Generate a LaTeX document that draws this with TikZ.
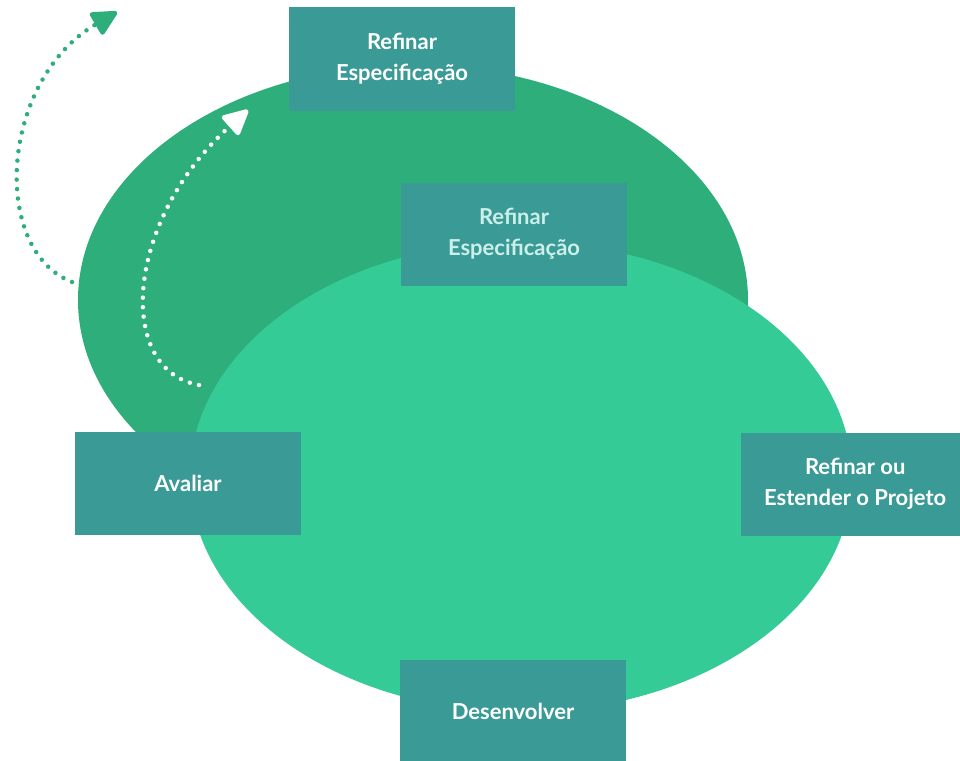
\documentclass[tikz,border=0pt]{standalone}
\usepackage{fontspec}
\setmainfont{Lato}
\usetikzlibrary{arrows.meta}
\definecolor{backgreen}{HTML}{2EAE7A}
\definecolor{frontgreen}{HTML}{34CB96}
\definecolor{boxteal}{HTML}{3A9A96}
\definecolor{palecyan}{HTML}{CDEFEA}
\begin{document}
\begin{tikzpicture}[x=1pt,y=-1pt,
    stage/.style={fill=boxteal,text=white,minimum width=226pt,minimum height=103pt,
        inner sep=0pt,align=center,font=\bfseries\fontsize{22}{31}\selectfont},
    loop/.style={line width=4.5pt,line cap=round,dash pattern=on 0pt off 9.5pt,
        -{Triangle[length=28pt,width=27pt,round=false]}}]
 \useasboundingbox (0,0) rectangle (960,760);
 % the two turns of the spiral
 \fill[backgreen] (413,300) ellipse [x radius=335,y radius=235];
 \fill[frontgreen] (521,477) ellipse [x radius=331,y radius=235];
 % steps
 \node[stage] (specout) at (402,59) {Refinar\\Especificação};
 \node[stage,text=palecyan] (specin) at (514,234) {Refinar\\Especificação};
 \node[stage] (avaliar) at (188,483) {Avaliar};
 \node[stage,anchor=west] (projeto) at (741,484) {\hspace*{2pt}Refinar ou\\\hspace*{2pt}Estender o Projeto};
 \node[stage] (desenv) at (513,711) {Desenvolver};
 % way back to the outer turn
 \coordinate (outstart) at (72,282);
 \coordinate (outend) at (117,12);
 \coordinate (instart) at (199,385);
 \coordinate (inend) at (248,110);
 \draw[loop,backgreen] (outstart) .. controls (-10,250) and (0,80) .. (outend);
 \draw[loop,white] (instart) .. controls (115,370) and (125,220) .. (inend);
\end{tikzpicture}
\end{document}
